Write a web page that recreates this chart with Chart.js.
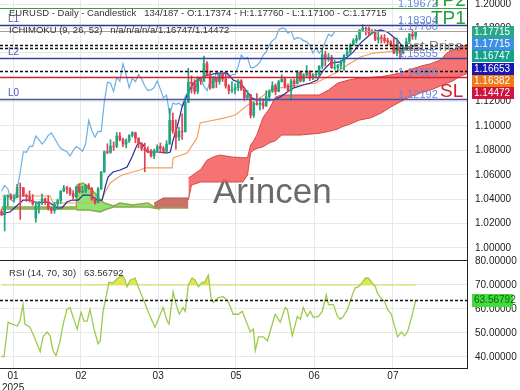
<!DOCTYPE html>
<html>
<head>
<meta charset="utf-8">
<script src="https://cdn.jsdelivr.net/npm/chart.js@4.4.1/dist/chart.umd.min.js"></script>
<style>
  html, body { margin: 0; padding: 0; background: #fff; }
  #wrap { position: relative; width: 520px; height: 390px; overflow: hidden; }
  #mainChart { position: absolute; left: 0; top: 0; }
  #rsiChart { position: absolute; left: 0; top: 250px; }
</style>
</head>
<body>
<div id="wrap">
  <canvas id="mainChart" width="520" height="260"></canvas>
  <canvas id="rsiChart" width="520" height="140"></canvas>
</div>
<script>
// EURUSD daily candles, bar 0 .. 133
const opens = [1.0298,1.0272,1.0417,1.0431,1.0406,1.0414,1.0495,1.0494,1.0430,1.0421,1.0390,1.0245,1.0344,1.0379,1.0403,1.0381,1.0329,1.0307,1.0361,1.0388,
  1.0466,1.0492,1.0484,1.0445,1.0421,1.0502,1.0458,1.0465,1.0513,1.0486,1.0398,1.0374,1.0483,1.0623,1.0789,1.0784,1.0834,1.0833,1.0918,1.0888,
  1.0852,1.0880,1.0923,1.0944,1.0899,1.0854,1.0815,1.0802,1.0790,1.0754,1.0799,1.0831,1.0815,1.0793,1.0852,1.1046,1.0961,1.0908,1.0956,1.0954,
  1.1195,1.1358,1.1350,1.1284,1.1398,1.1366,1.1511,1.1420,1.1313,1.1391,1.1364,1.1423,1.1386,1.1328,1.1291,1.1296,1.1315,1.1370,1.1302,1.1231,
  1.1253,1.1088,1.1188,1.1177,1.1187,1.1165,1.1241,1.1285,1.1330,1.1283,1.1363,1.1385,1.1327,1.1290,1.1370,1.1347,1.1442,1.1370,1.1417,1.1445,
  1.1395,1.1420,1.1423,1.1489,1.1584,1.1549,1.1562,1.1478,1.1479,1.1496,1.1523,1.1579,1.1608,1.1664,1.1700,1.1718,1.1787,1.1802,1.1799,1.1761,
  1.1778,1.1710,1.1724,1.1719,1.1700,1.1690,1.1664,1.1598,1.1640,1.1597,1.1626,1.1692,1.1752,1.17374];
const highs = [1.0316,1.0435,1.0437,1.0443,1.0438,1.0522,1.0533,1.0495,1.0441,1.0468,1.0438,1.0380,1.0380,1.0442,1.0410,1.0430,1.0335,1.0375,1.0401,1.0471,
  1.0513,1.0505,1.0495,1.0470,1.0507,1.0528,1.0505,1.0523,1.0528,1.0498,1.0413,1.0497,1.0628,1.0797,1.0854,1.0888,1.0870,1.0947,1.0947,1.0901,
  1.0895,1.0930,1.0955,1.0950,1.0905,1.0864,1.0860,1.0830,1.0808,1.0810,1.0846,1.0860,1.0832,1.0880,1.1144,1.1107,1.1050,1.0990,1.1100,1.1215,
  1.1474,1.1410,1.1380,1.1405,1.1400,1.1573,1.1528,1.1450,1.1405,1.1398,1.1425,1.1430,1.1425,1.1340,1.1365,1.1345,1.1380,1.1380,1.1310,1.1290,
  1.1260,1.1195,1.1265,1.1230,1.1225,1.1290,1.1297,1.1363,1.1345,1.1375,1.1420,1.1400,1.1345,1.1385,1.1385,1.1455,1.1450,1.1430,1.1495,1.1455,
  1.1430,1.1450,1.1495,1.1632,1.1614,1.1595,1.1580,1.1540,1.1505,1.1540,1.1585,1.1640,1.1675,1.1715,1.1745,1.1790,1.1830,1.1810,1.1810,1.1790,
  1.1790,1.1770,1.1745,1.1750,1.1720,1.1700,1.1720,1.1720,1.1650,1.1660,1.1720,1.1760,1.1788,1.17760];
const lows = [1.0266,1.0140,1.0340,1.0394,1.0380,1.0410,1.0235,1.0422,1.0382,1.0376,1.0350,1.0210,1.0285,1.0355,1.0358,1.0310,1.0283,1.0285,1.0315,1.0365,
  1.0460,1.0448,1.0430,1.0400,1.0412,1.0453,1.0450,1.0452,1.0480,1.0390,1.0360,1.0370,1.0480,1.0620,1.0772,1.0776,1.0800,1.0822,1.0878,1.0830,
  1.0820,1.0864,1.0910,1.0862,1.0820,1.0797,1.0625,1.0780,1.0745,1.0733,1.0787,1.0780,1.0776,1.0775,1.0850,1.0940,1.0810,1.0880,1.0890,1.0950,
  1.1190,1.1270,1.1262,1.1265,1.1340,1.1366,1.1410,1.1300,1.1310,1.1315,1.1343,1.1365,1.1310,1.1265,1.1273,1.1262,1.1290,1.1290,1.1210,1.1220,
  1.1065,1.1070,1.1170,1.1130,1.1140,1.1160,1.1205,1.1275,1.1255,1.1280,1.1360,1.1310,1.1280,1.1210,1.1320,1.1345,1.1360,1.1360,1.1400,1.1372,
  1.1380,1.1395,1.1400,1.1470,1.1490,1.1530,1.1470,1.1460,1.1445,1.1470,1.1455,1.1573,1.1590,1.1660,1.1680,1.1705,1.1775,1.1745,1.1740,1.1755,
  1.1700,1.1680,1.1680,1.1680,1.1665,1.1650,1.1592,1.1575,1.1556,1.1590,1.1620,1.1680,1.1710,1.17100];
const closes = [1.0272,1.0417,1.0431,1.0406,1.0414,1.0495,1.0494,1.0430,1.0421,1.0390,1.0361,1.0344,1.0379,1.0403,1.0381,1.0329,1.0307,1.0361,1.0388,1.0466,
  1.0492,1.0484,1.0445,1.0421,1.0502,1.0458,1.0465,1.0513,1.0486,1.0398,1.0374,1.0483,1.0623,1.0789,1.0784,1.0834,1.0833,1.0918,1.0888,1.0852,
  1.0880,1.0923,1.0944,1.0899,1.0854,1.0815,1.0802,1.0790,1.0754,1.0799,1.0831,1.0815,1.0793,1.0852,1.1046,1.0961,1.0908,1.0956,1.0954,1.1195,
  1.1358,1.1350,1.1284,1.1398,1.1366,1.1511,1.1420,1.1313,1.1391,1.1364,1.1423,1.1386,1.1328,1.1291,1.1296,1.1315,1.1370,1.1302,1.1231,1.1253,
  1.1088,1.1188,1.1177,1.1187,1.1165,1.1241,1.1285,1.1330,1.1283,1.1363,1.1385,1.1327,1.1290,1.1370,1.1347,1.1442,1.1370,1.1417,1.1445,1.1395,
  1.1420,1.1423,1.1489,1.1584,1.1549,1.1562,1.1478,1.1479,1.1496,1.1523,1.1579,1.1608,1.1664,1.1700,1.1718,1.1787,1.1802,1.1799,1.1761,1.1778,
  1.1710,1.1724,1.1719,1.1700,1.1690,1.1664,1.1598,1.1640,1.1597,1.1626,1.1692,1.1752,1.1737,1.17715];

// Ichimoku lines (bar index / price)
const tenkanIdx = [0,1.1,2.7,5.9,6.9,9.1,11.4,14.6,15.6,17.8,19.4,21,22.7,24.6,26.2,28.4,30.7,32.3,33.3,34.2,35.8,38.1,40.3,41.9,43.5,44.5,45.5,46.8,50,53.2,
  54.2,55.1,56.4,58,59.6,61.6,63.8,66.4,69.3,72.5,74.4,76.7,78.9,80.5,82.1,87.3,89.5,91.8,93.7,96.9,99.2,101.4,103.4,105.6,108.8,111.1,113,115.3,117.5,119.4,
  121.7,124,125.9,127.2,129.1,131.3,133];
const tenkanVal = [1.0270,1.0287,1.0295,1.0369,1.0393,1.0393,1.0369,1.0377,1.0369,1.0328,1.0328,1.0377,1.0393,1.0393,1.0434,1.0434,1.0393,1.0393,1.0500,1.0582,
  1.0623,1.0639,1.0664,1.0746,1.0844,1.0861,1.0844,1.0787,1.0787,1.0779,1.0787,1.0885,1.0992,1.1156,1.1254,1.1352,1.1393,1.1418,1.1434,1.1434,
  1.1377,1.1352,1.1279,1.1230,1.1213,1.1213,1.1238,1.1279,1.1311,1.1336,1.1352,1.1377,1.1459,1.1516,1.1525,1.1566,1.1607,1.1680,1.1730,1.1770,
  1.1787,1.1770,1.1730,1.1705,1.1639,1.1639,1.16653];
const kijunIdx = [0,5.9,15.6,16.5,31.7,33.3,34.9,37.1,38.7,44.5,46.1,54.8,55.1,59.6,62.8,63.8,71.8,75.1,79.9,83.1,86.3,91.1,96,100.8,104,107.2,111.1,115.3,119.4,124,127.2,133];
const kijunVal = [1.0426,1.0426,1.0426,1.0369,1.0369,1.0459,1.0533,1.0574,1.0598,1.0639,1.0656,1.0656,1.0738,1.0779,1.0902,1.1025,1.1066,1.1090,1.1189,1.1230,
  1.1295,1.1320,1.1336,1.1352,1.1393,1.1434,1.1500,1.1566,1.1598,1.1607,1.1623,1.16382];
const chikouShift = 26;

// cloud: thin dark part, then the wide red part, then the early green part
const darkIdx = [49,52,58,60];
const darkTop = [1.0369,1.0410,1.0410,1.0410];
const darkBottom = [1.0328,1.0328,1.0328,1.0328];
const redIdx = [60,61,64,66,68,70,74,77.5,79,80,81,82,84,86,88,90,96,102,105,108,109,112,115,118.5,122,125,128,131,134.5,137.8,141,143,145,147.4,150];
const redTop = [1.0574,1.0590,1.0645,1.0720,1.0746,1.0762,1.0746,1.0740,1.0740,1.0844,1.0880,1.0926,1.1070,1.1140,1.1238,1.1254,1.1254,
  1.1254,1.1295,1.1352,1.1360,1.1380,1.1393,1.1398,1.1405,1.1418,1.1435,1.1460,1.1490,1.1510,1.1541,1.1598,1.1623,1.1648,1.1670];
const redBottom = [1.0393,1.0516,1.0541,1.0541,1.0541,1.0541,1.0541,1.0541,1.0598,1.0780,1.0803,1.0815,1.0830,1.0861,1.0880,1.0926,1.0926,
  1.0940,1.0955,1.0975,1.0990,1.1016,1.1049,1.1066,1.1107,1.1156,1.1197,1.1238,1.1270,1.1295,1.1328,1.1350,1.1370,1.1410,1.1434];
const greenIdx = [0,24,24.3,26.2,28,30,31.7,33,36,38,42,47,49,51];
const greenTop = [1.0336,1.0336,1.0516,1.0533,1.0500,1.0451,1.0393,1.0369,1.0344,1.0369,1.0352,1.0369,1.0336,1.0328];
const greenBottom = [1.0320,1.0320,1.0311,1.0311,1.0311,1.0303,1.0295,1.0311,1.0336,1.0336,1.0336,1.0336,1.0328,1.0320];

// RSI(14)
const rsiIdx = [0,0.8,2.1,3.4,5.0,5.9,6.9,7.5,9.1,10.1,11.4,12.4,13.3,14.6,15.6,16.5,17.5,18.8,19.8,21.0,
  22.0,23.0,24.3,25.5,26.5,27.5,28.4,29.7,31.0,31.7,32.6,33.9,34.5,35.8,37.4,38.7,39.7,40.3,41.3,42.9,
  43.9,45.2,46.8,48.4,49.3,51.0,51.9,53.2,53.8,55.1,56.1,57.1,58.3,59.0,60.0,61.2,62.2,63.2,64.5,65.1,
  66.4,67.3,68.0,69.6,71.2,72.8,74.4,76.0,77.3,78.9,79.9,80.9,81.5,82.5,83.1,84.1,85.4,86.3,87.9,89.5,
  91.1,91.8,93.4,95.0,96.0,96.9,98.2,99.2,100.1,101.8,103.0,104.3,105.0,106.6,107.9,108.8,109.8,111.1,112.7,113.6,
  114.6,115.9,116.9,117.8,119.1,120.1,120.7,121.7,123.0,124.0,125.2,125.9,127.2,128.4,129.4,130.4,131.7,133];
const rsiVal = [40.2,40.2,54.5,53.7,52.9,54.9,61.8,53.7,52.4,49.6,45.5,42.2,48.4,50.4,48.8,42.7,40.6,46.7,53.7,59.8,
  60.6,56.5,51.6,58.6,54.9,54.9,59.8,51.6,45.5,46.7,59.0,67.1,71.2,70.8,72.9,74.1,72.0,69.2,72.0,72.9,
  69.2,65.1,59.8,54.9,52.4,57.8,60.6,54.9,53.7,67.1,61.8,57.8,60.6,59.0,70.0,72.9,72.0,69.2,71.2,70.8,
  74.1,64.7,62.7,64.7,65.1,63.1,57.8,57.8,59.0,53.7,50.4,51.6,42.7,48.4,48.4,48.4,46.7,50.8,57.8,54.5,
  60.6,59.8,48.8,56.9,55.7,60.6,56.9,59.0,56.5,56.9,59.0,65.9,61.8,61.8,56.9,55.7,56.9,59.8,65.9,68.8,
  69.2,71.2,72.9,72.9,70.8,69.2,66.7,64.7,63.1,59.8,57.8,54.5,48.4,50.4,48.8,50.4,56.5,63.56792];
const rsiUpper = 70;
const rsiLast = 63.56792;

// axes
const monthTickIdx = [3.7, 25.5, 50.3, 75.3, 100.4, 125.7];
const monthTickLabels = ['01', '02', '03', '05', '06', '07'];
const yearLabel = '2025';
const priceTicks = [1.00, 1.02, 1.04, 1.06, 1.08, 1.10, 1.12, 1.14, 1.16, 1.18, 1.20];
const rsiTicks = [40, 50, 60, 70, 80];

// horizontal levels and right-axis tags
const levelPrices = [1.19672, 1.18304, 1.17760, 1.16653, 1.16382, 1.15555, 1.14472, 1.14020, 1.12192];
const tagPrices = [1.17715, 1.17715, 1.16747, 1.16653, 1.16382, 1.14472];

const headerText = 'EURUSD - Daily - Candlestick   134/187 - O:1.17374 - H:1.17760 - L:1.17100 - C:1.17715';
const ichimokuText = 'ICHIMOKU (9, 26, 52)   n/a/n/a/n/a/1.16747/1.14472';
const rsiText = 'RSI (14, 70, 30)   63.56792';

const levelStyles = [
    { color: '#39a03a', width: 1, dash: [], tag: true },
    { color: '#2e3a8c', width: 1.5, dash: [], tag: true, name: 'L1' },
    { color: '#a0a0a0', width: 1, dash: [], tag: true },
    { color: '#111111', width: 1.5, dash: [3, 2] },
    { color: '#111111', width: 1.5, dash: [3, 2] },
    { color: '#3a459c', width: 1.5, dash: [], tag: true, name: 'L2' },
    { color: '#111111', width: 1.5, dash: [3, 2] },
    { color: '#d42030', width: 1.5, dash: [], tag: true },
    { color: '#4a52a8', width: 1.5, dash: [], tag: true, name: 'L0' },
];
const tagColors = ['#2aa68c', '#3d8fe3', '#17a08e', '#1818b4', '#f07a16', '#d4123f'];

const FONT = '"Liberation Sans", Arial, sans-serif';
Chart.defaults.font.family = FONT;

const UP = '#22a57e';
const DOWN = '#e2404f';
const candleColors = closes.map((c, i) => (c >= opens[i] ? UP : DOWN));
const lastIdx = closes.length - 1;

const pts = (xs, ys) => xs.map((x, i) => ({ x: x, y: ys[i] }));

function lineSet(data, color, width, order, extra) {
    return Object.assign({
        type: 'line',
        data: data,
        borderColor: color,
        borderWidth: width,
        pointRadius: 0,
        tension: 0,
        fill: false,
        order: order,
    }, extra || {});
}

// no label padding, so the plot fills the whole panel
function noPad(axis) {
    axis.paddingTop = 0;
    axis.paddingBottom = 0;
    axis.paddingLeft = 0;
    axis.paddingRight = 0;
}

const mainOverlay = {
    id: 'mainOverlay',
    beforeDatasetsDraw(chart) {
        const ctx = chart.ctx;
        ctx.save();
        ctx.font = '35px ' + FONT;
        ctx.fillStyle = 'rgba(90, 90, 90, 0.9)';
        ctx.fillText('Arincen', 213, 203);
        ctx.restore();
    },
    afterDatasetsDraw(chart) {
        const { ctx, chartArea: a, scales: { y } } = chart;
        ctx.save();
        ctx.beginPath();
        ctx.rect(a.left, a.top, a.right - a.left, a.bottom - a.top);
        ctx.clip();

        levelPrices.forEach((p, i) => {
            const st = levelStyles[i];
            const py = Math.round(y.getPixelForValue(p)) + 0.5;
            ctx.strokeStyle = st.color;
            ctx.lineWidth = st.width;
            ctx.setLineDash(st.dash);
            ctx.beginPath();
            ctx.moveTo(a.left, py);
            ctx.lineTo(a.right, py);
            ctx.stroke();
            ctx.setLineDash([]);
            if (st.tag) {
                ctx.font = '11px ' + FONT;
                ctx.fillStyle = '#6b86d8';
                ctx.fillText(p.toFixed(5), 398, py - 1.5);
            }
            if (st.name) {
                ctx.font = '10px ' + FONT;
                ctx.fillStyle = '#4a5ab8';
                ctx.fillText(st.name, 8, py - 3.5);
            }
        });

        const pTP1 = y.getPixelForValue(levelPrices[1]);
        const pTP2 = y.getPixelForValue(levelPrices[0]);
        const pSL = y.getPixelForValue(levelPrices[7]);
        ctx.font = '19px ' + FONT;
        ctx.fillStyle = '#23a03e';
        ctx.fillText('TP1', 431, pTP1 - 1);
        ctx.fillText('TP2', 431, pTP2 - 2);
        ctx.fillStyle = '#d42030';
        ctx.fillText('SL', 440, pSL + 20);
        ctx.font = '15px ' + FONT;
        ctx.fillStyle = 'rgba(120, 120, 120, 0.9)';
        ctx.textAlign = 'right';
        ctx.fillText('Last Price', 463, 51);
        ctx.restore();
    },
    afterDraw(chart) {
        const { ctx, chartArea: a, scales: { y } } = chart;
        ctx.save();
        ctx.font = '9.5px ' + FONT;
        ctx.fillStyle = '#333';
        ctx.fillText(headerText, 9, 16);
        ctx.fillText(ichimokuText, 9, 33);

        // stacked tags on the price axis
        ctx.font = '10px ' + FONT;
        let prev = -100;
        tagPrices.forEach((p, i) => {
            let cy = Math.max(y.getPixelForValue(p), prev + 12.3);
            prev = cy;
            ctx.fillStyle = tagColors[i];
            ctx.fillRect(a.right + 5, Math.round(cy - 6), 42, 12);
            ctx.fillStyle = '#ffffff';
            ctx.textBaseline = 'middle';
            ctx.fillText(p.toFixed(5), a.right + 7, Math.round(cy) + 0.5);
        });
        ctx.restore();
    },
};

new Chart(document.getElementById('mainChart'), {
    type: 'bar',
    data: {
        datasets: [
            {
                type: 'bar',
                data: closes.map((c, i) => ({ x: i, y: [lows[i], highs[i]] })),
                backgroundColor: candleColors,
                barThickness: 1,
                grouped: false,
                order: 2,
            },
            {
                type: 'bar',
                data: closes.map((c, i) => ({ x: i, y: [opens[i], c] })),
                backgroundColor: candleColors,
                barThickness: 2,
                grouped: false,
                order: 1,
            },
            lineSet(pts(tenkanIdx, tenkanVal), '#2a2a9c', 1.2, 3),
            lineSet(pts(kijunIdx, kijunVal), '#f4a060', 1.2, 3),
            lineSet(closes.slice(chikouShift).map((c, i) => ({ x: i, y: c })), '#6cb0e2', 1.2, 3),
            lineSet(pts(redIdx, redTop), '#d24a4a', 1, 10),
            lineSet(pts(redIdx, redBottom), '#d24a4a', 1, 10, {
                fill: { target: 5 },
                backgroundColor: 'rgba(244, 96, 96, 0.88)',
            }),
            lineSet(pts(greenIdx, greenTop), '#8ea84a', 1.5, 11),
            lineSet(pts(greenIdx, greenBottom), '#8ea84a', 1.5, 11, {
                fill: { target: 7 },
                backgroundColor: 'rgba(120, 225, 90, 0.85)',
            }),
            lineSet(pts(darkIdx, darkTop), '#b65a52', 1, 10),
            lineSet(pts(darkIdx, darkBottom), '#9aa04c', 1.5, 10, {
                fill: { target: 9 },
                backgroundColor: 'rgba(196, 98, 90, 0.9)',
            }),
        ],
    },
    options: {
        responsive: false,
        animation: false,
        layout: { padding: 0 },
        plugins: { legend: { display: false }, tooltip: { enabled: false } },
        scales: {
            x: {
                type: 'linear',
                min: -0.5,
                max: 149.5,
                offset: false,
                afterBuildTicks: (axis) => { axis.ticks = monthTickIdx.map((v) => ({ value: v })); },
                afterFit: (axis) => { axis.height = 0; noPad(axis); },
                ticks: { display: false },
                grid: { color: '#e8e8e8', drawTicks: false, offset: false },
                border: { display: false },
            },
            y: {
                position: 'right',
                min: 0.99016,
                max: 1.20328,
                afterBuildTicks: (axis) => { axis.ticks = priceTicks.map((v) => ({ value: v })); },
                afterFit: (axis) => { axis.width = 53; noPad(axis); },
                ticks: { color: '#222', font: { size: 10 }, padding: 8, callback: (v) => v.toFixed(5) },
                grid: { color: '#e8e8e8', drawTicks: false },
                border: { display: true, color: '#222', width: 1 },
            },
        },
    },
    plugins: [mainOverlay],
});

const rsiOverlay = {
    id: 'rsiOverlay',
    afterDraw(chart) {
        const { ctx, chartArea: a, scales: { y } } = chart;
        ctx.save();
        ctx.strokeStyle = '#222';
        ctx.lineWidth = 1;
        ctx.beginPath();
        ctx.moveTo(a.left, a.top + 0.5);
        ctx.lineTo(a.right, a.top + 0.5);
        ctx.stroke();

        const py = Math.round(y.getPixelForValue(rsiLast)) + 0.5;
        ctx.setLineDash([3, 2]);
        ctx.lineWidth = 1.5;
        ctx.strokeStyle = '#111';
        ctx.beginPath();
        ctx.moveTo(a.left, py);
        ctx.lineTo(a.right, py);
        ctx.stroke();
        ctx.setLineDash([]);

        ctx.fillStyle = '#40dc3a';
        ctx.fillRect(a.right + 5, py - 6.5, 41, 13);
        ctx.font = '10px ' + FONT;
        ctx.fillStyle = '#1d5a1d';
        ctx.textBaseline = 'middle';
        ctx.fillText(rsiLast.toFixed(5), a.right + 7, py);

        ctx.textBaseline = 'alphabetic';
        ctx.font = '9.5px ' + FONT;
        ctx.fillStyle = '#333';
        ctx.fillText(rsiText, 9, a.top + 16);
        ctx.restore();
    },
};

new Chart(document.getElementById('rsiChart'), {
    type: 'line',
    data: {
        datasets: [
            lineSet(pts(rsiIdx, rsiVal), '#9ccb4c', 1.3, 1, {
                fill: { target: { value: rsiUpper }, above: 'rgba(226, 226, 70, 0.9)', below: 'rgba(0, 0, 0, 0)' },
            }),
            lineSet([{ x: 0, y: rsiUpper }, { x: lastIdx, y: rsiUpper }], '#dcdc6c', 1.3, 2),
        ],
    },
    options: {
        responsive: false,
        animation: false,
        layout: { padding: { top: 10 } },
        plugins: { legend: { display: false }, tooltip: { enabled: false } },
        scales: {
            x: {
                type: 'linear',
                min: -0.5,
                max: 149.5,
                offset: false,
                afterBuildTicks: (axis) => { axis.ticks = monthTickIdx.map((v) => ({ value: v })); },
                afterFit: (axis) => { axis.height = 22; noPad(axis); },
                ticks: {
                    color: '#222',
                    font: { size: 10 },
                    padding: 2,
                    maxRotation: 0,
                    autoSkip: false,
                    callback: (v, i) => (i === 0 ? [monthTickLabels[i], yearLabel] : monthTickLabels[i]),
                },
                grid: { color: '#e8e8e8', drawTicks: false },
                border: { display: true, color: '#222', width: 1 },
            },
            y: {
                position: 'right',
                min: 35.4,
                max: 80.4,
                afterBuildTicks: (axis) => { axis.ticks = rsiTicks.map((v) => ({ value: v })); },
                afterFit: (axis) => { axis.width = 53; noPad(axis); },
                ticks: { color: '#222', font: { size: 10 }, padding: 8, callback: (v) => v.toFixed(5) },
                grid: { color: '#e8e8e8', drawTicks: false },
                border: { display: true, color: '#222', width: 1 },
            },
        },
    },
    plugins: [rsiOverlay],
});
</script>
</body>
</html>
